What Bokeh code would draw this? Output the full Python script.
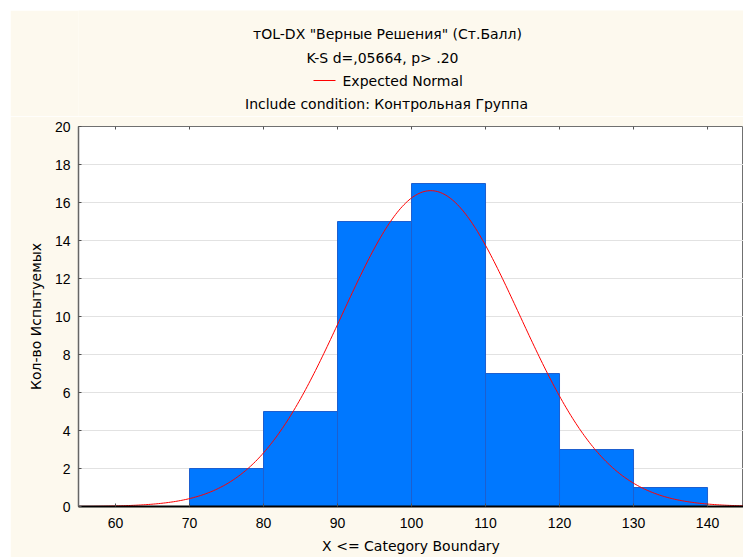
import numpy as np
from bokeh.plotting import figure
from bokeh.layouts import column
from bokeh.models import Range1d, LinearAxis, FixedTicker, ColumnDataSource
from bokeh.core.properties import value
from bokeh.embed import file_html
from bokeh.resources import INLINE

# Histogram of standardized scores (control group)
bin_left = [70, 80, 90, 100, 110, 120, 130]
bin_right = [80, 90, 100, 110, 120, 130, 140]
counts = [2, 5, 15, 17, 7, 3, 1]

# Fitted normal (mean, sd) used for the expected-count curve
fit_mean = 102.6
fit_sd = 12.0
bin_width = 10

x_ticks = [60, 70, 80, 90, 100, 110, 120, 130, 140]
y_ticks = [0, 2, 4, 6, 8, 10, 12, 14, 16, 18, 20]

header_lines = [
    'тOL-DX "Верные Решения" (Ст.Балл)',
    'K-S d=,05664, p> .20',
    "Include condition: Контрольная Группа",
]
legend_text = "Expected Normal"
x_label = "X <= Category Boundary"
y_label = "Кол-во Испытуемых"

TEXT_FONT = "DejaVu Sans"
TICK_FONT = "Liberation Sans"
CREAM = "#FDF9EE"
PAGE_TOP = 10
HEADER_H = 106
W = 733
FRAME_LEFT = 78          # page x of the plot frame's left edge
FRAME_RIGHT = 743

# ---- header panel: title lines and the legend entry ----
# its frame is aligned with the histogram's frame by the column layout, so the
# x range is expressed in page pixels over that span
hdr = figure(width=W, height=HEADER_H, output_backend="svg", toolbar_location=None,
             x_range=Range1d(FRAME_LEFT, FRAME_RIGHT), y_range=Range1d(0, HEADER_H),
             min_border=0, x_axis_location=None, y_axis_location=None)
hdr.grid.visible = False
hdr.outline_line_color = None
hdr.background_fill_color = CREAM
hdr.border_fill_color = CREAM


def hy(page_y):
    return HEADER_H - (page_y - PAGE_TOP)


hdr.text(x=[387, 382, 386], y=[hy(33), hy(57), hy(103)], text=header_lines,
         text_font=value(TEXT_FONT), text_font_size="14px", text_color="black",
         text_align="center", text_baseline="middle")
hdr.segment(x0=[313], y0=[hy(80)], x1=[335], y1=[hy(80)], line_color="#FF0000",
            line_width=1)
hdr.text(x=[342], y=[hy(80)], text=[legend_text],
         text_font=value(TEXT_FONT), text_font_size="14px", text_color="black",
         text_align="left", text_baseline="middle")

# ---- histogram panel ----
p = figure(width=W, height=557 - PAGE_TOP - HEADER_H, output_backend="svg",
           toolbar_location=None,
           x_range=Range1d(55, 144.86), y_range=Range1d(0, 20),
           min_border_left=68, min_border_right=0, min_border_top=10,
           min_border_bottom=51, x_axis_location=None, y_axis_location=None)
p.border_fill_color = CREAM
p.background_fill_color = "white"
p.outline_line_color = "#707070"
p.outline_line_width = 1

xaxis = LinearAxis(ticker=FixedTicker(ticks=x_ticks), axis_label=x_label)
yaxis = LinearAxis(ticker=FixedTicker(ticks=y_ticks), axis_label=y_label)
for ax in (xaxis, yaxis):
    ax.major_tick_in = 3
    ax.major_tick_out = 0
    ax.minor_tick_line_color = None
    ax.major_tick_line_color = "#505050"
    ax.major_label_text_font = TICK_FONT
    ax.major_label_text_font_size = "14px"
    ax.major_label_text_color = "black"
    ax.axis_label_text_font = TEXT_FONT
    ax.axis_label_text_font_size = "14px"
    ax.axis_label_text_font_style = "normal"
    ax.axis_label_text_color = "black"
xaxis.axis_line_color = "black"
xaxis.axis_line_width = 2
xaxis.major_label_standoff = 11
xaxis.axis_label_standoff = 7
yaxis.axis_line_color = "#666666"
yaxis.axis_line_width = 1.5
yaxis.major_label_standoff = 8
yaxis.axis_label_standoff = 8
p.add_layout(xaxis, "below")
p.add_layout(yaxis, "left")

p.xgrid.visible = False
p.ygrid.ticker = FixedTicker(ticks=y_ticks)
p.ygrid.grid_line_color = "#E2E2E2"
p.ygrid.grid_line_width = 1

src = ColumnDataSource(dict(left=bin_left, right=bin_right, top=counts,
                            bottom=[0] * len(counts)))
p.quad(left="left", right="right", top="top", bottom="bottom", source=src,
       fill_color="#0078FF", line_color="#1D5FCF", line_width=1)

# expected normal counts per bin width
xs = np.linspace(55, 145, 400)
ys = sum(counts) * bin_width / (fit_sd * np.sqrt(2 * np.pi)) \
    * np.exp(-0.5 * ((xs - fit_mean) / fit_sd) ** 2)
p.line(xs, ys, line_color="#FF0000", line_width=1)

# short inward tick marks along the top edge of the frame
tick_len = 3 * 20 / 380
p.segment(x0=x_ticks, y0=[20] * len(x_ticks), x1=x_ticks,
          y1=[20 - tick_len] * len(x_ticks), line_color="#505050", line_width=1)

layout = column(hdr, p, spacing=0)
layout.margin = (PAGE_TOP, 0, 0, 10)

open("out.html", "w").write(file_html(layout, INLINE))
